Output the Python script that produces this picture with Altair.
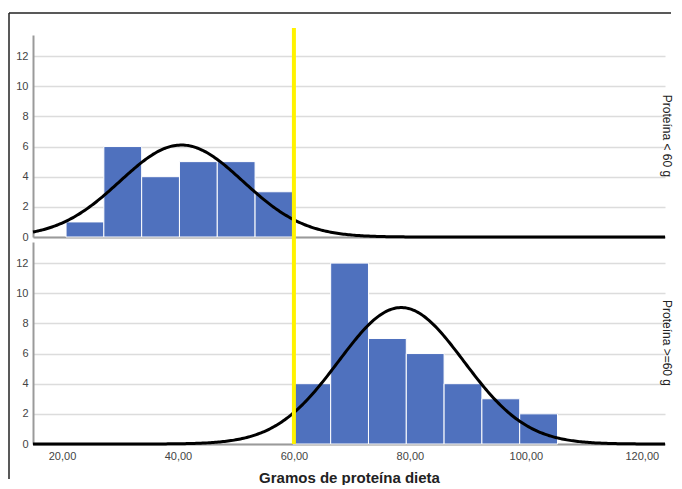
import altair as alt
import pandas as pd
import numpy as np

# ---- data ----
edges_low = [20.70, 27.22, 33.74, 40.26, 46.78, 53.30, 59.82]
counts_low = [1, 6, 4, 5, 5, 3]
edges_high = [59.82, 66.34, 72.86, 79.38, 85.90, 92.42, 98.94, 105.46]
counts_high = [4, 12, 7, 6, 4, 3, 2]
panel_labels = ["Proteína < 60 g", "Proteína >=60 g"]
x_ticks = [20, 40, 60, 80, 100, 120]
y_ticks = [0, 2, 4, 6, 8, 10, 12]
# fitted normal curves (mean, sd, peak height in counts)
curve_low = {"mean": 40.6, "sd": 10.6, "peak": 6.1}
curve_high = {"mean": 78.5, "sd": 10.8, "peak": 9.05}
cutoff = [60]
x_title = "Gramos de proteína dieta"

X_MIN, X_MAX = 15, 124
Y_MAX = 13.4
W, H = 632, 202
FONT = "Liberation Sans"
BLUE = "#4F71BE"


def panel(edges, counts, curve, label, show_x, frame, rule_top):
    bars = pd.DataFrame({"x0": edges[:-1], "x1": edges[1:], "n": counts})
    xs = np.linspace(X_MIN, X_MAX, 400)
    dens = curve["peak"] * np.exp(-0.5 * ((xs - curve["mean"]) / curve["sd"]) ** 2)
    cdf = pd.DataFrame({"x": xs, "y": dens})

    xscale = alt.Scale(domain=[X_MIN, X_MAX], nice=False, zero=False)
    yscale = alt.Scale(domain=[0, Y_MAX], nice=False)
    if show_x:
        xaxis = alt.Axis(values=x_ticks,
                         labelExpr="replace(format(datum.value, '.2f'), '.', ',')",
                         title=x_title, ticks=False, grid=False,
                         domainColor="#9a9a9a", domainWidth=2,
                         labelFontSize=11, labelColor="#444", labelPadding=6,
                         titleFontSize=15, titleFontWeight="bold", titleColor="#222",
                         titlePadding=9)
    else:
        xaxis = alt.Axis(labels=False, ticks=False, title=None, grid=False,
                         domainColor="#9a9a9a", domainWidth=2)
    yaxis = alt.Axis(values=y_ticks, ticks=False, title=None,
                     domainColor="#9a9a9a", domainWidth=2,
                     gridColor="#dcdcdc", gridWidth=1.5,
                     labelFontSize=11, labelColor="#444", labelPadding=5)

    b = alt.Chart(bars).mark_rect(color=BLUE, stroke="white", strokeWidth=1).encode(
        x=alt.X("x0:Q", scale=xscale, axis=xaxis),
        x2="x1:Q",
        y=alt.Y("n:Q", scale=yscale, axis=yaxis),
        y2=alt.datum(0),
    )
    c = alt.Chart(cdf).mark_line(color="black", strokeWidth=3).encode(
        x=alt.X("x:Q", scale=xscale, axis=xaxis),
        y=alt.Y("y:Q", scale=yscale, axis=yaxis),
    )
    r = alt.Chart(pd.DataFrame({"c": cutoff})).mark_rule(color="#FFF200", strokeWidth=4).encode(
        x=alt.X("c:Q", scale=xscale, axis=xaxis),
        y=alt.value(rule_top),
        y2=alt.value(H),
    )
    t = alt.Chart(pd.DataFrame({"t": [label]})).mark_text(
        angle=90, fontSize=12, font=FONT, color="#222"
    ).encode(text="t:N", x=alt.value(634), y=alt.value(H / 2))
    layers = [b, c, r, t]
    if frame:
        one = pd.DataFrame({"a": [0]})
        f1 = alt.Chart(one).mark_rule(color="#222", strokeWidth=1.5).encode(
            x=alt.value(-24), y=alt.value(-22), y2=alt.value(444))
        f2 = alt.Chart(one).mark_rule(color="#222", strokeWidth=1.5).encode(
            x=alt.value(-24), x2=alt.value(638), y=alt.value(-22))
        layers += [f1, f2]
    return alt.layer(*layers).properties(width=W, height=H)


top = panel(edges_low, counts_low, curve_low, panel_labels[0], False, True, -7)
bottom = panel(edges_high, counts_high, curve_high, panel_labels[1], True, False, -5)

chart = alt.vconcat(top, bottom, spacing=5, bounds="flush").properties(
    padding={"left": 0, "top": 4, "right": 0, "bottom": 0}
).configure_view(stroke=None).configure_axis(labelFont=FONT, titleFont=FONT)

chart.save("out.html", embed_options={"renderer": "svg", "actions": False})
